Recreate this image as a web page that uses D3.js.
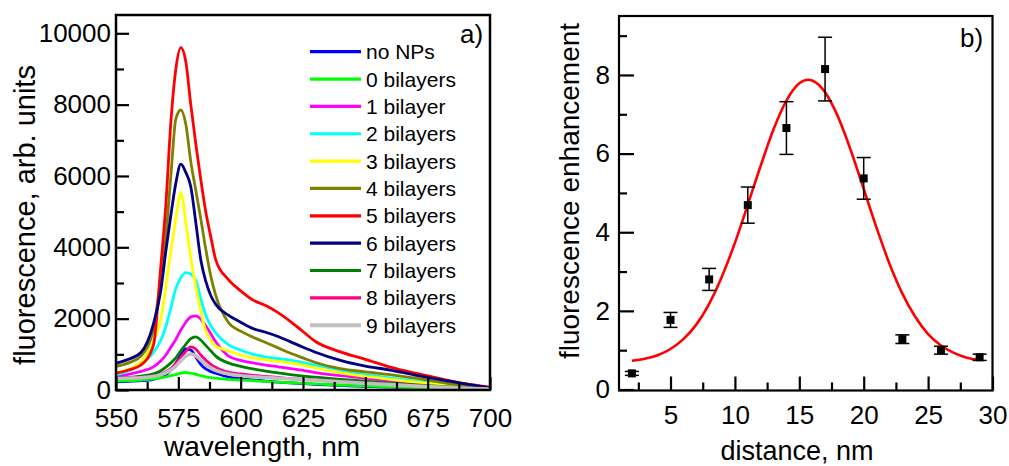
<!DOCTYPE html>
<html>
<head>
<meta charset="utf-8">
<script src="https://cdn.jsdelivr.net/npm/d3@7"></script>
<style>
  body { margin: 0; background: #fff; }
  text { font-family: "Liberation Sans", Arial, sans-serif; fill: #000; }
</style>
</head>
<body>
<svg id="chart" width="1009" height="466"></svg>
<script>
// ---- (a) fluorescence spectra ----
const wavelengths = [550, 555, 560, 565, 568, 570, 572, 574, 576, 578, 580, 582, 584, 586, 588, 590, 595, 600, 605, 610, 615, 620, 625, 630, 640, 650, 660, 670, 680, 690, 700];

const seriesNames = ["no NPs", "0 bilayers", "1 bilayer", "2 bilayers", "3 bilayers", "4 bilayers",
                     "5 bilayers", "6 bilayers", "7 bilayers", "8 bilayers", "9 bilayers"];
const seriesColors = ["#0000ff", "#00ff00", "#ff00ff", "#00ffff", "#ffff00", "#808000",
                      "#ff0000", "#000080", "#008000", "#ff0080", "#c0c0c0"];

const noNPs     = [230, 240, 260, 300, 360, 430, 560, 750, 980, 1150, 1120, 930, 720, 590, 520, 470, 370, 320, 280, 250, 220, 200, 180, 160, 130, 100, 80, 60, 40, 25, 15];
const bilayers0 = [250, 260, 280, 310, 340, 370, 400, 430, 470, 490, 470, 440, 400, 370, 350, 330, 300, 280, 260, 240, 220, 200, 185, 170, 140, 115, 90, 70, 50, 30, 20];
const bilayers1 = [370, 440, 520, 650, 820, 980, 1200, 1420, 1680, 1900, 2050, 2080, 1990, 1800, 1580, 1350, 960, 830, 760, 700, 650, 600, 550, 490, 400, 330, 250, 190, 130, 80, 40];
const bilayers2 = [420, 540, 720, 1050, 1400, 1780, 2300, 2850, 3150, 3290, 3250, 3080, 2560, 2100, 1800, 1600, 1270, 1120, 1000, 930, 880, 840, 770, 700, 560, 430, 340, 250, 160, 100, 50];
const bilayers3 = [480, 580, 780, 1350, 2000, 2900, 3900, 4800, 5530, 4700, 3700, 2900, 2200, 1650, 1400, 1230, 1100, 980, 900, 850, 800, 760, 700, 620, 480, 380, 300, 220, 150, 90, 50];
const bilayers4 = [660, 760, 950, 1700, 3200, 4300, 6000, 7600, 7850, 7450, 6400, 5600, 4800, 3950, 3200, 2650, 1900, 1650, 1480, 1330, 1180, 1030, 900, 770, 600, 510, 430, 330, 220, 120, 50];
const bilayers5 = [470, 560, 700, 1250, 3500, 5200, 7500, 9000, 9600, 9200, 8000, 6900, 5900, 5000, 4300, 3650, 3100, 2780, 2520, 2370, 2170, 1920, 1640, 1360, 1070, 860, 640, 470, 320, 180, 80];
const bilayers6 = [750, 860, 1050, 1850, 2800, 3900, 4900, 5800, 6330, 6100, 5700, 4700, 3650, 3050, 2650, 2400, 2100, 1900, 1720, 1620, 1500, 1350, 1200, 1060, 830, 670, 560, 420, 290, 170, 60];
const bilayers7 = [330, 350, 390, 450, 540, 640, 760, 900, 1100, 1280, 1440, 1490, 1400, 1250, 1100, 950, 760, 660, 590, 530, 480, 430, 390, 360, 300, 250, 190, 140, 100, 60, 30];
const bilayers8 = [320, 330, 350, 390, 450, 510, 600, 740, 920, 1080, 1210, 1150, 980, 840, 720, 630, 500, 450, 410, 380, 350, 320, 300, 280, 240, 200, 160, 120, 80, 50, 30];
const bilayers9 = [320, 330, 345, 380, 430, 480, 560, 670, 820, 950, 1010, 960, 840, 720, 620, 550, 450, 400, 370, 350, 330, 310, 290, 270, 230, 190, 150, 110, 80, 50, 30];

const spectra = [noNPs, bilayers0, bilayers1, bilayers2, bilayers3, bilayers4,
                 bilayers5, bilayers6, bilayers7, bilayers8, bilayers9];

const spectrumXTicks = [550, 575, 600, 625, 650, 675, 700];
const spectrumXMinor = [562.5, 587.5, 612.5, 637.5, 662.5, 687.5];
const spectrumYTicks = [0, 2000, 4000, 6000, 8000, 10000];
const spectrumYMinor = [1000, 3000, 5000, 7000, 9000];

// ---- (b) enhancement vs. spacer distance ----
const distances = [2, 5, 8, 11, 14, 17, 20, 23, 26, 29];
const enhancement = [0.41, 1.77, 2.80, 4.69, 6.65, 8.15, 5.37, 1.28, 1.00, 0.82];
const enhancementErr = [0.05, 0.19, 0.28, 0.46, 0.67, 0.81, 0.53, 0.11, 0.10, 0.08];

const fitDistance = [2, 3, 4, 5, 6, 7, 8, 9, 10, 11, 12, 13, 14, 15, 15.7, 16, 17, 18, 19, 20, 21, 22, 23, 24, 25, 26, 27, 28, 29];
const fitEnhancement = [0.73, 0.78, 0.87, 1.03, 1.28, 1.65, 2.18, 2.88, 3.73, 4.70, 5.69, 6.62, 7.35, 7.79, 7.88, 7.86, 7.56, 6.94, 6.08, 5.10, 4.11, 3.20, 2.44, 1.85, 1.41, 1.12, 0.93, 0.81, 0.75];

const enhXTicks = [5, 10, 15, 20, 25, 30];
const enhXMinor = [2.5, 7.5, 12.5, 17.5, 22.5, 27.5];
const enhYTicks = [0, 2, 4, 6, 8];
const enhYMinor = [1, 3, 5, 7, 9];

const svg = d3.select("#chart");

// ---------- panel a ----------
const ax = d3.scaleLinear().domain([550, 700]).range([116, 490]);
const ay = d3.scaleLinear().domain([0, 10000]).range([390, 33.3]);

svg.append("clipPath").attr("id", "clipA")
  .append("rect").attr("x", 116).attr("y", 15).attr("width", 374).attr("height", 375);

const spectrumLine = d3.line()
  .x((d, i) => ax(wavelengths[i]))
  .y(d => ay(d))
  .curve(d3.curveMonotoneX);

const gA = svg.append("g").attr("clip-path", "url(#clipA)");
spectra.forEach((vals, k) => {
  gA.append("path")
    .attr("d", spectrumLine(vals))
    .attr("fill", "none")
    .attr("stroke", seriesColors[k])
    .attr("stroke-width", k === 10 ? 3.6 : 2.8)
    .attr("stroke-linejoin", "round");
});

function styleAxis(g) {
  g.select(".domain").remove();
  g.selectAll(".tick line").attr("stroke", "#000").attr("stroke-width", 2.2);
}

// bottom axis (ticks point inward)
svg.append("g").attr("transform", "translate(0,390)")
  .call(d3.axisBottom(ax).tickValues(spectrumXTicks).tickSize(-13).tickFormat(d3.format("d")))
  .call(styleAxis)
  .call(g => g.selectAll("text").attr("y", 37).attr("dy", 0)
    .style("font-size", "26px").style("font-family", "Liberation Sans, Arial, sans-serif"));
svg.append("g").attr("transform", "translate(0,390)")
  .call(d3.axisBottom(ax).tickValues(spectrumXMinor).tickSize(-8).tickFormat(""))
  .call(styleAxis);

svg.append("g").attr("transform", "translate(116,0)")
  .call(d3.axisLeft(ay).tickValues(spectrumYTicks).tickSize(-13).tickFormat(d3.format("d")))
  .call(styleAxis)
  .call(g => g.selectAll("text").attr("x", -5)
    .style("font-size", "26px").style("font-family", "Liberation Sans, Arial, sans-serif"));
svg.append("g").attr("transform", "translate(116,0)")
  .call(d3.axisLeft(ay).tickValues(spectrumYMinor).tickSize(-8).tickFormat(""))
  .call(styleAxis);

svg.append("rect").attr("x", 116).attr("y", 15).attr("width", 374).attr("height", 375)
  .attr("fill", "none").attr("stroke", "#000").attr("stroke-width", 2.5);

// legend
const legend = svg.append("g");
seriesNames.forEach((name, k) => {
  const y = 51.7 + k * 27.35;
  legend.append("line").attr("x1", 310).attr("x2", 361).attr("y1", y).attr("y2", y)
    .attr("stroke", seriesColors[k]).attr("stroke-width", k === 10 ? 4 : 3.2);
  legend.append("text").attr("x", 366).attr("y", y + 7.5).style("font-size", "21px").text(name);
});

svg.append("text").attr("x", 460).attr("y", 43).style("font-size", "26px").text("a)");

svg.append("text").attr("x", 262).attr("y", 456).attr("text-anchor", "middle")
  .style("font-size", "28px").text("wavelength, nm");
svg.append("text").attr("transform", "translate(35,215) rotate(-90)").attr("text-anchor", "middle")
  .style("font-size", "29px").text("fluorescence, arb. units");

// ---------- panel b ----------
const bx = d3.scaleLinear().domain([1, 30]).range([619, 992.5]);
const by = d3.scaleLinear().domain([0, 9.5]).range([389.5, 16]);

svg.append("g").attr("transform", "translate(0,390.5)")
  .call(d3.axisBottom(bx).tickValues(enhXTicks).tickSize(-14).tickFormat(d3.format("d")))
  .call(styleAxis)
  .call(g => g.selectAll("text").attr("y", 33).attr("dy", 0)
    .style("font-size", "26px").style("font-family", "Liberation Sans, Arial, sans-serif"));
svg.append("g").attr("transform", "translate(0,390.5)")
  .call(d3.axisBottom(bx).tickValues(enhXMinor).tickSize(-8).tickFormat(""))
  .call(styleAxis);

svg.append("g").attr("transform", "translate(619,0)")
  .call(d3.axisLeft(by).tickValues(enhYTicks).tickSize(-15).tickFormat(d3.format("d")))
  .call(styleAxis)
  .call(g => g.selectAll("text").attr("x", -9)
    .style("font-size", "26px").style("font-family", "Liberation Sans, Arial, sans-serif"));
svg.append("g").attr("transform", "translate(619,0)")
  .call(d3.axisLeft(by).tickValues(enhYMinor).tickSize(-8).tickFormat(""))
  .call(styleAxis);

svg.append("clipPath").attr("id", "clipB")
  .append("rect").attr("x", 619).attr("y", 16).attr("width", 373.5).attr("height", 374.5);

const fitLine = d3.line()
  .x((d, i) => bx(fitDistance[i]))
  .y(d => by(d))
  .curve(d3.curveMonotoneX);

svg.append("path").attr("clip-path", "url(#clipB)")
  .attr("d", fitLine(fitEnhancement))
  .attr("fill", "none").attr("stroke", "#ff0000").attr("stroke-width", 2.6);

const pts = svg.append("g");
distances.forEach((d, i) => {
  const cx = bx(d), v = enhancement[i], e = enhancementErr[i];
  const y1 = by(v - e), y2 = by(v + e);
  pts.append("line").attr("x1", cx).attr("x2", cx).attr("y1", y1).attr("y2", y2)
    .attr("stroke", "#000").attr("stroke-width", 1.5);
  [y1, y2].forEach(yy => pts.append("line").attr("x1", cx - 7).attr("x2", cx + 7)
    .attr("y1", yy).attr("y2", yy).attr("stroke", "#000").attr("stroke-width", 1.5));
  pts.append("rect").attr("x", cx - 4).attr("y", by(v) - 4).attr("width", 8).attr("height", 8)
    .attr("fill", "#000");
});

svg.append("rect").attr("x", 619).attr("y", 16).attr("width", 373.5).attr("height", 374.5)
  .attr("fill", "none").attr("stroke", "#000").attr("stroke-width", 2.2);

svg.append("text").attr("x", 960).attr("y", 47).style("font-size", "26px").text("b)");

svg.append("text").attr("x", 797).attr("y", 460).attr("text-anchor", "middle")
  .style("font-size", "27px").text("distance, nm");
svg.append("text").attr("transform", "translate(579,191) rotate(-90)").attr("text-anchor", "middle")
  .style("font-size", "28px").text("fluorescence enhancement");
</script>
</body>
</html>
